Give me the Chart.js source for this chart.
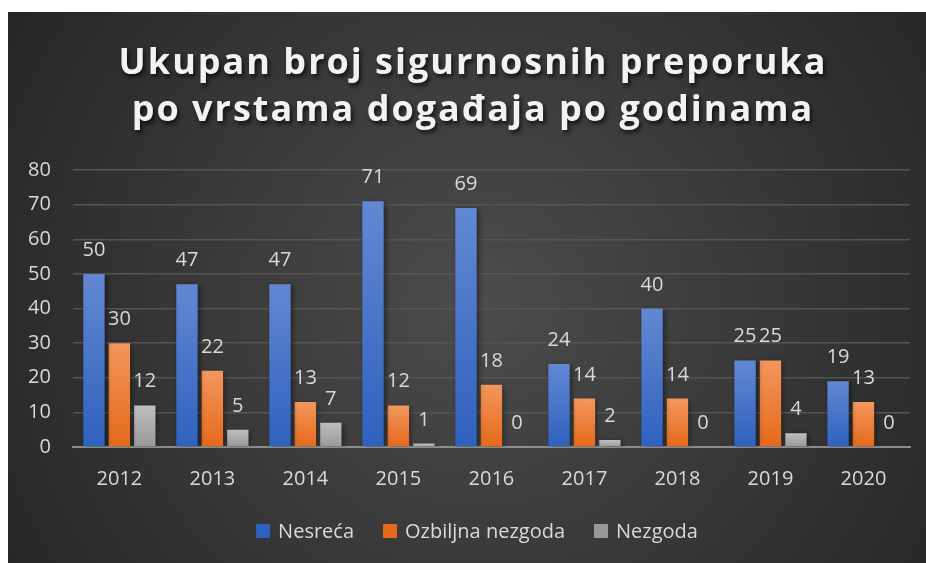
<!DOCTYPE html>
<html>
<head>
<meta charset="utf-8">
<script src="https://cdn.jsdelivr.net/npm/chart.js@4"></script>
<style>
  html, body { margin: 0; padding: 0; background: #fff; }
  #wrap { width: 926px; height: 563px; }
</style>
</head>
<body>
<div id="wrap"><canvas id="chart" width="926" height="563"></canvas></div>
<script>
const years = ['2012', '2013', '2014', '2015', '2016', '2017', '2018', '2019', '2020'];
const nesreca = [50, 47, 47, 71, 69, 24, 40, 25, 19];
const ozbiljnaNezgoda = [30, 22, 13, 12, 18, 14, 14, 25, 13];
const nezgoda = [12, 5, 7, 1, 0, 2, 0, 4, 0];
const titleLines = ['Ukupan broj sigurnosnih preporuka', 'po vrstama događaja po godinama'];

// top / bottom colour of each bar's gradient
const blue = ['#6288d2', '#2f61be'];
const orange = ['#f3975d', '#e5691a'];
const gray = ['#bfbfbf', '#989898'];
const seriesColors = [blue, orange, gray];

function barGradient(colors) {
  return function (context) {
    const chart = context.chart;
    if (!chart.chartArea || context.type !== 'data') return colors[1];
    const y = chart.scales.y;
    const top = y.getPixelForValue(context.raw);
    const base = y.getPixelForValue(0);
    if (base - top < 1) return colors[0];
    const g = chart.ctx.createLinearGradient(0, top, 0, base);
    g.addColorStop(0, colors[0]);
    g.addColorStop(1, colors[1]);
    return g;
  };
}

// card background, title and legend
const decor = {
  id: 'decor',
  beforeDraw(chart) {
    const ctx = chart.ctx;
    ctx.save();
    ctx.fillStyle = '#ffffff';
    ctx.fillRect(0, 0, chart.width, chart.height);
    const g = ctx.createRadialGradient(480, 300, 0, 480, 300, 580);
    g.addColorStop(0, '#4c4c4c');
    g.addColorStop(1, '#242424');
    ctx.fillStyle = g;
    ctx.fillRect(8, 12, chart.width - 8, chart.height - 12);
    ctx.restore();
  },
  afterDraw(chart) {
    const ctx = chart.ctx;
    ctx.save();
    ctx.font = 'bold 36px "Open Sans"';
    ctx.letterSpacing = '2px';
    ctx.textAlign = 'center';
    ctx.textBaseline = 'alphabetic';
    ctx.fillStyle = '#f2f2f2';
    ctx.shadowColor = 'rgba(0,0,0,0.7)';
    ctx.shadowBlur = 4;
    ctx.shadowOffsetX = 2;
    ctx.shadowOffsetY = 3;
    ctx.fillText(titleLines[0], 473, 74);
    ctx.fillText(titleLines[1], 473, 121);
    ctx.restore();

    // legend
    ctx.save();
    ctx.font = '20px "Open Sans"';
    ctx.textBaseline = 'middle';
    ctx.textAlign = 'left';
    const box = 14, gapText = 8, gapItem = 29, cy = 531;
    const items = chart.data.datasets.map((ds, i) => ({
      text: ds.label, color: seriesColors[i][1], w: ctx.measureText(ds.label).width
    }));
    let total = 0;
    items.forEach((it, i) => { total += box + gapText + it.w + (i ? gapItem : 0); });
    let x = 477 - total / 2;
    items.forEach(it => {
      ctx.fillStyle = it.color;
      ctx.fillRect(x, cy - 7, box, box);
      ctx.fillStyle = '#d9d9d9';
      ctx.fillText(it.text, x + box + gapText, cy + 1);
      x += box + gapText + it.w + gapItem;
    });
    ctx.restore();
  }
};

// soft shadow behind bars
const barShadow = {
  id: 'barShadow',
  beforeDatasetsDraw(chart) {
    const ctx = chart.ctx;
    ctx.save();
    ctx.shadowColor = 'rgba(0,0,0,0.45)';
    ctx.shadowBlur = 5;
    ctx.shadowOffsetX = 2;
    ctx.shadowOffsetY = 1;
  },
  afterDatasetsDraw(chart) {
    chart.ctx.restore();
  }
};

// value labels above bars
const valueLabels = {
  id: 'valueLabels',
  afterDatasetsDraw(chart) {
    const ctx = chart.ctx;
    ctx.save();
    ctx.font = '20px "Open Sans"';
    ctx.fillStyle = '#d9d9d9';
    ctx.textAlign = 'center';
    ctx.textBaseline = 'alphabetic';
    chart.data.datasets.forEach((ds, i) => {
      const meta = chart.getDatasetMeta(i);
      meta.data.forEach((bar, j) => {
        ctx.fillText(ds.data[j], bar.x, bar.y - 18);
      });
    });
    ctx.restore();
  }
};

const ctx = document.getElementById('chart').getContext('2d');
const chart = new Chart(ctx, {
  type: 'bar',
  data: {
    labels: years,
    datasets: [
      { label: 'Nesreća', data: nesreca, backgroundColor: barGradient(blue) },
      { label: 'Ozbiljna nezgoda', data: ozbiljnaNezgoda, backgroundColor: barGradient(orange) },
      { label: 'Nezgoda', data: nezgoda, backgroundColor: barGradient(gray) }
    ]
  },
  options: {
    responsive: false,
    animation: false,
    categoryPercentage: 0.82,
    barPercentage: 0.84,
    layout: { padding: { top: 170, left: 6, right: 16, bottom: 52 } },
    plugins: {
      title: { display: false },
      tooltip: { enabled: false },
      legend: { display: false }
    },
    scales: {
      x: {
        grid: { display: false, drawTicks: false },
        border: { display: true, color: '#8c8c8c', width: 2 },
        ticks: {
          color: '#d9d9d9',
          font: { family: 'Open Sans', size: 20 },
          padding: 20
        }
      },
      y: {
        min: 0,
        max: 80,
        grid: { color: '#555555', lineWidth: 1.5, drawTicks: false },
        border: { display: false },
        ticks: {
          stepSize: 10,
          color: '#d9d9d9',
          font: { family: 'Open Sans', size: 20 },
          padding: 22
        }
      }
    }
  },
  plugins: [decor, barShadow, valueLabels]
});
</script>
</body>
</html>
